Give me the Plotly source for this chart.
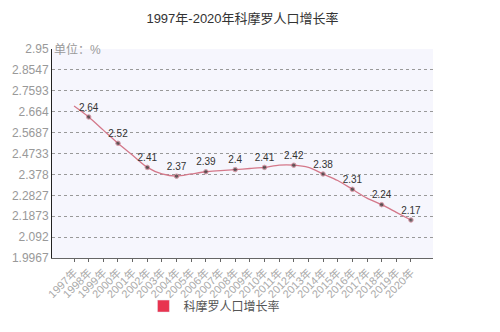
import plotly.graph_objects as go

# Comoros population growth rate, 1997-2020 (%)
years = [f"{y}年" for y in range(1997, 2021)]
growth = [2.69, 2.64, 2.58, 2.52, 2.465, 2.41, 2.38, 2.37, 2.38, 2.39, 2.395, 2.40,
          2.405, 2.41, 2.42, 2.42, 2.41, 2.38, 2.35, 2.31, 2.27, 2.24, 2.205, 2.17]
# every second year carries a marker and a value label
labelled = [False, True] * 12

y_ticks = [1.9967, 2.092, 2.1873, 2.2827, 2.378, 2.4733, 2.5687, 2.664, 2.7593, 2.8547, 2.95]
y_tick_text = ["1.9967", "2.092", "2.1873", "2.2827", "2.378", "2.4733", "2.5687",
               "2.664", "2.7593", "2.8547", "2.95"]

series_name = "科摩罗人口增长率"
font_family = "Liberation Sans, Noto Sans CJK SC, sans-serif"

fig = go.Figure()

fig.add_trace(go.Scatter(
    x=years,
    y=growth,
    mode="lines+markers+text",
    line=dict(color="#d4788a", width=1.3, shape="spline", smoothing=0.8),
    marker=dict(color="#333333", size=[4.5 if f else 0 for f in labelled]),
    text=[f"{v:g}" if f else "" for v, f in zip(growth, labelled)],
    textposition="top center",
    textfont=dict(size=10, color="#333333", family=font_family),
    showlegend=False,
    cliponaxis=False,
))

# legend entry with a filled swatch
fig.add_trace(go.Bar(
    x=[None], y=[None],
    name=series_name,
    marker=dict(color="#e8344f"),
    showlegend=True,
))

fig.update_layout(
    width=500, height=332,
    margin=dict(l=42, r=67, t=49, b=70),
    paper_bgcolor="white",
    plot_bgcolor="#f6f6fd",
    font=dict(family=font_family, color="#888888"),
    title=dict(
        text="1997年-2020年科摩罗人口增长率",
        x=0.5, xref="paper", xanchor="center",
        y=0.945, yref="container", yanchor="middle",
        font=dict(size=13, color="#333333", family=font_family),
    ),
    xaxis=dict(
        type="category",
        tickangle=-45,
        tickfont=dict(size=11, color="#aaaaaa"),
        showgrid=False,
        showline=True, linecolor="#666666", linewidth=1,
        ticks="outside", ticklen=3, tickcolor="#666666",
        zeroline=False,
    ),
    yaxis=dict(
        range=[1.9967, 2.95],
        tickvals=y_ticks,
        ticktext=y_tick_text,
        tickfont=dict(size=12, color="#999999"),
        showgrid=True, gridcolor="#999999", gridwidth=1, griddash="3px,3px",
        showline=True, linecolor="#222222", linewidth=1,
        ticks="", zeroline=False,
    ),
    legend=dict(
        orientation="h",
        x=0.24, xanchor="left",
        y=-0.23, yanchor="middle",
        font=dict(size=12, color="#555555", family=font_family),
        bgcolor="rgba(0,0,0,0)",
        itemwidth=30,
    ),
    annotations=[dict(
        text="单位：%",
        x=0, xref="paper", xanchor="left",
        y=1, yref="paper", yanchor="middle",
        showarrow=False,
        font=dict(size=12, color="#999999", family=font_family),
    )],
)

fig.write_html("out.html")
